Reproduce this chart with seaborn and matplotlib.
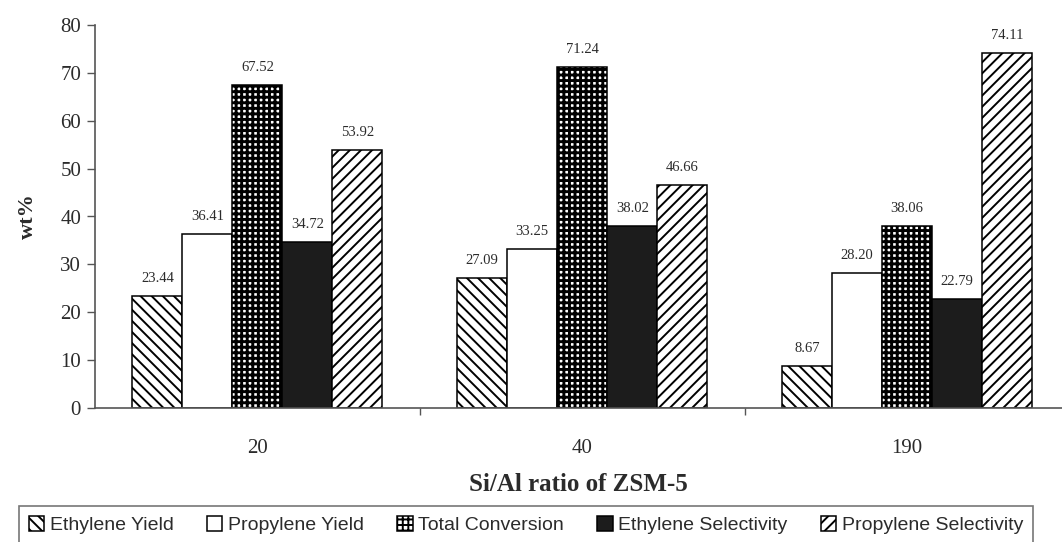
import matplotlib
matplotlib.use("Agg")
import matplotlib.pyplot as plt
from matplotlib import font_manager
import seaborn as sns
import pandas as pd

# ---- data ----
ratios = ["20", "40", "190"]
series = ["Ethylene Yield", "Propylene Yield", "Total Conversion",
          "Ethylene Selectivity", "Propylene Selectivity"]
ethylene_yield = [23.44, 27.09, 8.67]
propylene_yield = [36.41, 33.25, 28.20]
total_conversion = [67.52, 71.24, 38.06]
ethylene_selectivity = [34.72, 38.02, 22.79]
propylene_selectivity = [53.92, 46.66, 74.11]

values = [ethylene_yield, propylene_yield, total_conversion,
          ethylene_selectivity, propylene_selectivity]
df = pd.DataFrame([
    {"ratio": r, "series": s, "value": v}
    for s, vals in zip(series, values)
    for r, v in zip(ratios, vals)
])

# ---- style ----
sns.set_style("ticks")
plt.rcParams["font.family"] = ["Liberation Serif", "DejaVu Serif"]
plt.rcParams["hatch.linewidth"] = 1.4

names = {f.name for f in font_manager.fontManager.ttflist}
legend_font = "Liberation Sans Narrow" if "Liberation Sans Narrow" in names else "Liberation Sans"

txt = "#2b2b2b"
grey = "#555555"
colors = ["white", "white", "white", "#1c1c1c", "white"]
hatches = ["\\\\\\", "", "+++", "", "///"]

fig = plt.figure(figsize=(10.62, 5.42), dpi=100)
ax = fig.add_axes([95 / 1062, 1 - 408 / 542, 1 - 95 / 1062, 383 / 542])

sns.barplot(data=df, x="ratio", y="value", hue="series", order=ratios,
            hue_order=series, palette=colors, saturation=1, width=0.77,
            edgecolor="black", linewidth=1.1, legend=False, ax=ax)

for cont, h in zip(ax.containers, hatches):
    for bar in cont:
        bar.set_hatch(h)
        if h == "+++":
            # thicker grid so it reads like the checkerboard fill
            try:
                bar.set_hatch_linewidth(2.1)
            except AttributeError:
                pass
    ax.bar_label(cont, fmt="%.2f", padding=8, fontsize=10.5, color=txt)

ax.set_xlim(-0.5, 2.477)
ax.set_ylim(0, 80)
ax.set_yticks(range(0, 81, 10))
ax.set_xticks([0, 1, 2], ratios)
ax.set_xticks([0.5, 1.5], minor=True)
ax.tick_params(axis="x", which="major", length=0, pad=22, labelsize=15, labelcolor=txt)
ax.tick_params(axis="x", which="minor", length=5, width=1, color=grey, direction="out")
ax.tick_params(axis="y", length=6, width=1, color=grey, labelsize=15, labelcolor=txt, pad=4)
sns.despine(ax=ax)
for sp in ["left", "bottom"]:
    ax.spines[sp].set_color(grey)
    ax.spines[sp].set_linewidth(1.2)

ax.set_xlabel("Si/Al ratio of ZSM-5", fontsize=18, fontweight="bold", color=txt, labelpad=11)
ax.set_ylabel("wt%", fontsize=16, fontweight="bold", color=txt, labelpad=16)

handles = [c.patches[0] for c in ax.containers]
leg = fig.legend(handles, series, loc="upper left", ncol=5, mode="expand",
                 bbox_to_anchor=(19 / 1062, 0, 1014 / 1062, 1 - 506 / 542),
                 borderaxespad=0, frameon=True, fancybox=False,
                 handlelength=0.8, handleheight=0.8, handletextpad=0.3,
                 columnspacing=0.4, borderpad=0.5,
                 prop={"family": legend_font, "size": 14})
leg.get_frame().set_edgecolor(grey)
leg.get_frame().set_linewidth(1.2)
for t in leg.get_texts():
    t.set_color(txt)

fig.savefig("out.png", dpi=100)
